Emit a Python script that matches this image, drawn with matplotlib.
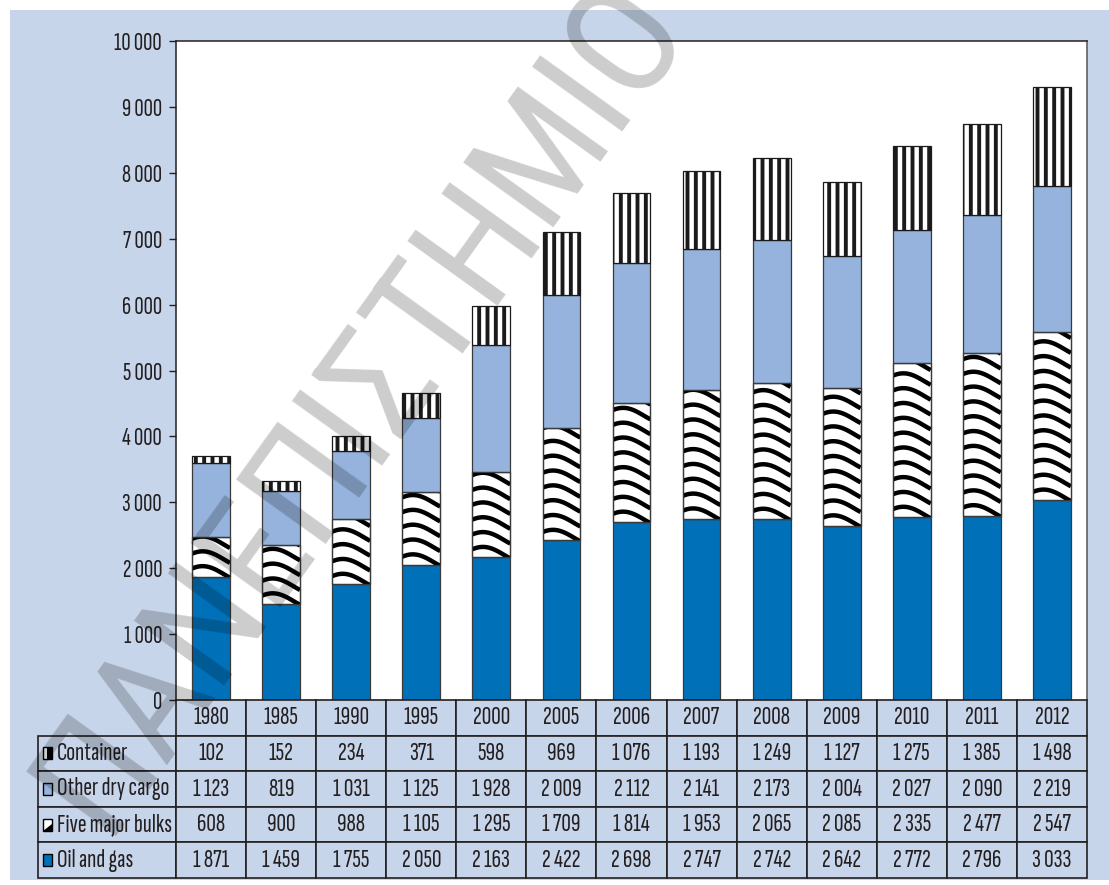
import numpy as np
import matplotlib
matplotlib.use('Agg')
import matplotlib.pyplot as plt
from matplotlib.patches import Rectangle, Polygon
from matplotlib.ticker import FuncFormatter

plt.rcParams['font.family'] = ['Sofia Sans Extra Condensed', 'Roboto Condensed', 'DejaVu Sans']
plt.rcParams['hatch.linewidth'] = 2.8

# Seaborne trade by cargo type (millions of tons)
years = ['1980', '1985', '1990', '1995', '2000', '2005', '2006',
         '2007', '2008', '2009', '2010', '2011', '2012']
container = [102, 152, 234, 371, 598, 969, 1076, 1193, 1249, 1127, 1275, 1385, 1498]
other_dry = [1123, 819, 1031, 1125, 1928, 2009, 2112, 2141, 2173, 2004, 2027, 2090, 2219]
five_bulks = [608, 900, 988, 1105, 1295, 1709, 1814, 1953, 2065, 2085, 2335, 2477, 2547]
oil_gas = [1871, 1459, 1755, 2050, 2163, 2422, 2698, 2747, 2742, 2642, 2772, 2796, 3033]
row_labels = ['Container', 'Other dry cargo', 'Five major bulks', 'Oil and gas']

bg = '#c7d5ea'
dark_blue = '#0070b8'
light_blue = '#95b3dc'
ink = '#231f20'
edge = '#3a3a3a'

W, H = 1109, 885
fig = plt.figure(figsize=(W / 100, H / 100), dpi=100)
fig.patch.set_facecolor('white')
fig.patches.append(Rectangle((10 / W, 5 / H), 1 - 10 / W, (H - 15) / H,
                             transform=fig.transFigure, facecolor=bg,
                             edgecolor='none', zorder=-10))

ax = fig.add_axes([176 / W, (H - 700) / H, (1087 - 176) / W, (700 - 41) / H])
ax.set_facecolor('white')

x = np.arange(len(years))
bw = 0.54
oil = np.array(oil_gas)
bulk = np.array(five_bulks)
dry = np.array(other_dry)

ax.bar(x, oil, bw, color=dark_blue, edgecolor=edge, linewidth=0.9)
bulk_bars = ax.bar(x, bulk, bw, bottom=oil, color='white', edgecolor=edge, linewidth=0.9)
ax.bar(x, dry, bw, bottom=oil + bulk, color=light_blue, edgecolor=edge, linewidth=0.9)
ax.bar(x, container, bw, bottom=oil + bulk + dry, color='white',
       edgecolor='#1a1a1a', hatch='||', linewidth=0.9)

# wavy stripes inside the five major bulks segments
spacing = 225
amp = 120
t = np.linspace(0, 1, 60)
for rect in bulk_bars:
    x0, w = rect.get_x(), rect.get_width()
    y0, h = rect.get_y(), rect.get_height()
    xs = x0 + t * w
    for k in range(int(h / spacing) + 2):
        ys = y0 + 40 + k * spacing + amp * np.sin(np.pi * (0.25 + 0.9 * t))
        ln, = ax.plot(xs, ys, color='black', lw=3.2, solid_capstyle='butt', zorder=2)
        ln.set_clip_path(rect)
    # outline back on top of the stripes
    ax.add_patch(Rectangle((x0, y0), w, h, facecolor='none', edgecolor=edge,
                           linewidth=0.9, zorder=3))

ax.set_xlim(-0.5, len(years) - 0.5)
ax.set_ylim(0, 10000)
ax.set_yticks(np.arange(0, 10001, 1000))
ax.yaxis.set_major_formatter(FuncFormatter(lambda v, p: f'{int(v):,}'.replace(',', ' ')))
ax.set_xticks([])
ax.tick_params(axis='y', direction='out', length=5, width=1, color=ink,
               labelsize=18.5, labelcolor=ink, pad=5)
for s in ['left', 'top', 'right']:
    ax.spines[s].set_color(ink)
    ax.spines[s].set_linewidth(1.1)
ax.spines['right'].set_color('#555555')
ax.spines['bottom'].set_visible(False)

# data table under the bars
tab_ax = fig.add_axes([38 / W, (H - 878) / H, 1049 / W, (878 - 700) / H])
tab_ax.axis('off')
series = [container, other_dry, five_bulks, oil_gas]
cell_text = [[lab] + [f'{v:,}'.replace(',', ' ') for v in vals]
             for lab, vals in zip(row_labels, series)]
col_w = [138 / 1049] + [(1049 - 138) / 1049 / len(years)] * len(years)
tab = tab_ax.table(cellText=cell_text, colLabels=[''] + years, colWidths=col_w,
                   cellLoc='center', bbox=[0, 0, 1, 1])
tab.auto_set_font_size(False)
tab.set_fontsize(19)
for (r, c), cell in tab.get_celld().items():
    cell.set_facecolor(bg)
    cell.set_edgecolor(ink)
    cell.set_linewidth(1.2)
    cell.get_text().set_color(ink)
    if r == 0 and c == 0:
        cell.visible_edges = ''
    elif c == 0:
        cell.get_text().set_ha('left')
        cell._loc = 'left'
        cell.PAD = 0.135

# legend keys in the label column
kx, kw, kh = 5 / 1049, 9 / 1049, 12 / 178
for i in range(4):
    cy = 1 - (i + 1.5) * 0.2
    y0 = cy - kh / 2
    if i == 0:
        tab_ax.add_patch(Rectangle((kx, y0), kw, kh, facecolor='white', edgecolor='black', lw=1))
        tab_ax.add_patch(Rectangle((kx + kw * 0.45, y0), kw * 0.55, kh, facecolor='black', lw=0))
    elif i == 1:
        tab_ax.add_patch(Rectangle((kx, y0), kw, kh, facecolor=light_blue, edgecolor='black', lw=1))
    elif i == 2:
        tab_ax.add_patch(Rectangle((kx, y0), kw, kh, facecolor='white', edgecolor='black', lw=1))
        tab_ax.add_patch(Polygon([(kx, y0), (kx + kw, y0), (kx + kw, y0 + kh * 0.55)],
                                 closed=True, facecolor='black', lw=0))
    else:
        tab_ax.add_patch(Rectangle((kx, y0), kw, kh, facecolor=dark_blue, edgecolor='black', lw=1))

# diagonal watermark
fig.text(109 / W, (H - 846) / H, 'ΠΑΝΕΠΙΣΤΗΜΙΟ ΠΕΙΡΑΙΩΣ', family='Roboto Condensed',
         fontsize=112, rotation=54.3, rotation_mode='anchor',
         ha='left', va='baseline', color='black', alpha=0.2, zorder=20)

fig.savefig('out.png', dpi=100)
